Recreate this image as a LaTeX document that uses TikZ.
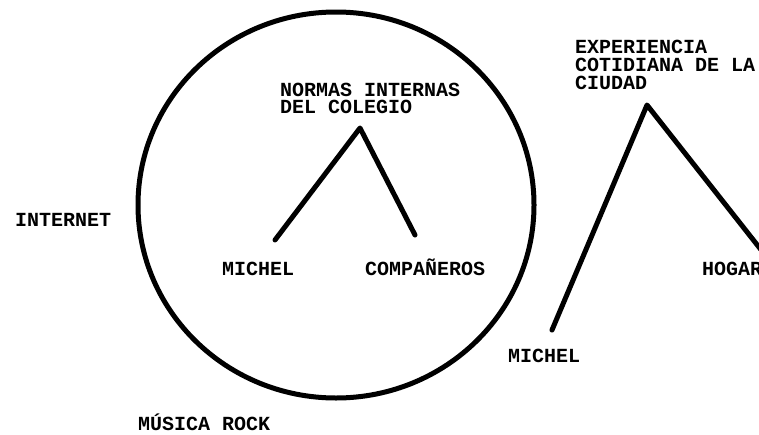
\documentclass[tikz,border=0pt]{standalone}
\usepackage{fontspec}
\newfontfamily\monob{Liberation Mono}[BoldFont={Liberation Mono Bold}]
\begin{document}
\begin{tikzpicture}[x=1pt,y=-1pt,
  lbl/.style={font=\monob\bfseries\fontsize{20}{16}\selectfont, inner sep=0pt, anchor=base west, align=left},
  stroke/.style={line width=5pt, line cap=round, line join=round}]
\useasboundingbox (0,0) rectangle (759,434);
\fill[white] (0,0) rectangle (759,434);
% circle
\draw[stroke] (336,205) ellipse [x radius=198, y radius=193];
% left fork
\coordinate (apexA) at (360,128);
\coordinate (endA1) at (275,240);
\coordinate (endA2) at (415,235);
\draw[stroke] (endA1) -- (apexA) -- (endA2);
% right fork
\coordinate (apexB) at (647,105);
\coordinate (endB1) at (552,330);
\coordinate (endB2) at (762,251);
\draw[stroke] (endB1) -- (apexB) -- (endB2);
% labels (multi-line nodes are placed by their last baseline)
\node[lbl, font=\monob\bfseries\fontsize{20}{17}\selectfont] (normas) at (280,113) {NORMAS INTERNAS\\DEL COLEGIO};
\node[lbl, font=\monob\bfseries\fontsize{20}{18}\selectfont] (exper) at (575,89) {EXPERIENCIA\\COTIDIANA DE LA\\CIUDAD};
\node[lbl] (internet) at (15,226) {INTERNET};
\node[lbl] (michelA) at (222,275) {MICHEL};
\node[lbl] (comp) at (365,275) {COMPAÑEROS};
\node[lbl] (hogar) at (702,275) {HOGAR};
\node[lbl] (michelB) at (508,362) {MICHEL};
\node[lbl] (musica) at (138,430) {MÚSICA ROCK};
\end{tikzpicture}
\end{document}
